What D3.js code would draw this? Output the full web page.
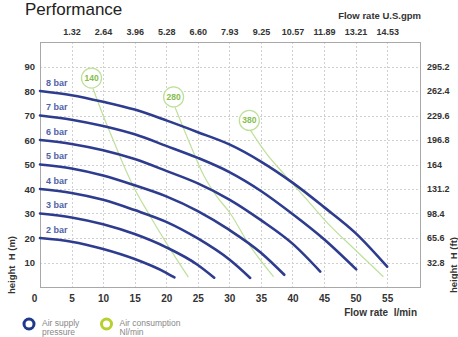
<!DOCTYPE html>
<html><head><meta charset="utf-8">
<script src="https://cdn.jsdelivr.net/npm/d3@7"></script>
<style>
body{margin:0;background:#fff}
svg{display:block}
text{font-family:"Liberation Sans",Arial,Helvetica,sans-serif;white-space:pre}
</style>
</head><body>
<svg id="chart" width="458" height="337"></svg>
<script>
// ---- data (flow rate l/min, head m) ----
const xTicksLmin = [0,5,10,15,20,25,30,35,40,45,50,55];
const topTicksGpm = ["1.32","2.64","3.96","5.28","6.60","7.93","9.25","10.57","11.89","13.21","14.53"];
const yTicksM = [10,20,30,40,50,60,70,80,90];
const rightTicksFt = ["32.8","65.6","98.4","131.2","164","196.8","229.6","262.4","295.2"];

const pressureNames = ["8 bar","7 bar","6 bar","5 bar","4 bar","3 bar","2 bar"];
const bar8 = [[0,80],[5,78.3],[10,75.6],[15,72.4],[20,68],[25,63.2],[30,58.2],[35,51.2],[40,42.6],[45,32.6],[50,22],[55,8.3]];
const bar7 = [[0,70],[5,68.3],[10,65.7],[15,62.3],[20,57.6],[25,52.7],[30,46.9],[35,39.2],[40,29.8],[45,19.5],[50.1,7.2]];
const bar6 = [[0,60],[5,58.4],[10,55.8],[15,52.2],[20,47.4],[25,42.3],[30,35.7],[35,27.3],[40,17.7],[44.4,6.3]];
const bar5 = [[0,50],[5,48.4],[10,45.5],[15,41.5],[20,37],[25,31],[30,23.3],[35,14],[38.7,5]];
const bar4 = [[0,40],[5,38.4],[10,35.6],[15,31.4],[20,26.6],[25,19.8],[30,11.2],[33.3,3.7]];
const bar3 = [[0,30],[5,28.4],[10,25.6],[15,21.6],[20,16.2],[25,9],[27.6,3.8]];
const bar2 = [[0,20],[5,18.5],[10,15.5],[15,11.4],[20,5.8],[21.3,3.9]];

const consumptionNames = ["140","280","380"];
const air140 = [[8.4,81],[10,70],[11.6,60],[13.2,50],[15,40],[17.2,30],[20,18],[23.5,4]];
const air280 = [[21.4,73.3],[23.5,60],[25.9,45.7],[28,37],[30.1,30.2],[33,17.8],[37,4.2]];
const air380 = [[33.4,63.7],[36,54],[38.8,45.7],[42,36.5],[45.4,26.5],[50,15],[54.4,4.2]];

// ---- layout ----
const svg = d3.select("#chart");
const L = 40, R = 420, T = 42, B = 287;
const x = d3.scaleLinear().domain([0, 60.2]).range([L, R]);
const y = d3.scaleLinear().domain([0, 100]).range([B, T]);

const blue = "#2d3c8e", labelBlue = "#5062a8", green = "#bfe09a", greenText = "#86bd4c";
const FONT = "Liberation Sans, Arial, sans-serif";

// title
svg.append("text").attr("x", 25).attr("y", 15).attr("font-size", 17).attr("fill", "#222").text("Performance");
svg.append("text").attr("x", 421).attr("y", 18.5).attr("text-anchor", "end").attr("font-size", 9.5)
  .attr("font-weight", "bold").attr("fill", "#333").text("Flow rate U.S.gpm");

// grid
const grid = svg.append("g").attr("stroke", "#d0d0d0").attr("stroke-width", 1).attr("stroke-dasharray", "2,2");
grid.selectAll("line.v").data(xTicksLmin.slice(1)).join("line").attr("class", "v")
  .attr("x1", d => Math.round(x(d)) + 0.5).attr("x2", d => Math.round(x(d)) + 0.5).attr("y1", T).attr("y2", B);
grid.selectAll("line.h").data(yTicksM).join("line").attr("class", "h")
  .attr("x1", L).attr("x2", R).attr("y1", d => Math.round(y(d)) + 0.5).attr("y2", d => Math.round(y(d)) + 0.5);

// frame
svg.append("rect").attr("x", L + 0.5).attr("y", T + 0.5).attr("width", R - L).attr("height", B - T)
  .attr("fill", "none").attr("stroke", "#a8a8a8").attr("stroke-width", 1);

// axes (labels only)
const axBottom = svg.append("g").attr("transform", `translate(0,${B + 5})`)
  .call(d3.axisBottom(x).tickValues(xTicksLmin).tickSize(0).tickPadding(3).tickFormat(d3.format("d")));
axBottom.select(".domain").remove();
axBottom.selectAll("text").attr("font-size", 10).attr("font-weight", "bold").attr("fill", "#333")
  .attr("font-family", FONT).attr("dx", d => d === 0 ? -6 : 0);

const axLeft = svg.append("g").attr("transform", `translate(35,0)`)
  .call(d3.axisLeft(y).tickValues(yTicksM).tickSize(0).tickPadding(0));
axLeft.select(".domain").remove();
axLeft.selectAll("text").attr("font-size", 9.5).attr("font-weight", "bold").attr("fill", "#333")
  .attr("font-family", FONT);

const axRight = svg.append("g").attr("transform", `translate(427,0)`)
  .call(d3.axisRight(y).tickValues(yTicksM).tickSize(0).tickPadding(0).tickFormat((d, i) => rightTicksFt[i]));
axRight.select(".domain").remove();
axRight.selectAll("text").attr("font-size", 9).attr("font-weight", "bold").attr("fill", "#333")
  .attr("font-family", FONT);

const axTop = svg.append("g").attr("transform", `translate(0,${T - 5})`)
  .call(d3.axisTop(x).tickValues(xTicksLmin.slice(1)).tickSize(0).tickPadding(2).tickFormat((d, i) => topTicksGpm[i]));
axTop.select(".domain").remove();
axTop.selectAll("text").attr("font-size", 9).attr("font-weight", "bold").attr("fill", "#333")
  .attr("font-family", FONT);

svg.append("text").attr("x", 417).attr("y", 316).attr("text-anchor", "end").attr("font-size", 10)
  .attr("font-weight", "bold").attr("fill", "#333").text("Flow rate  l/min");
svg.append("text").attr("transform", "translate(14.5,265) rotate(-90)").attr("text-anchor", "middle")
  .attr("font-size", 9.5).attr("font-weight", "bold").attr("fill", "#333").text("height  H (m)");
svg.append("text").attr("transform", "translate(457,265) rotate(-90)").attr("text-anchor", "middle")
  .attr("font-size", 9.5).attr("font-weight", "bold").attr("fill", "#333").text("height  H (ft)");

// lines
const line = d3.line().x(d => x(d[0])).y(d => y(d[1])).curve(d3.curveMonotoneX);

const airSeries = [air140, air280, air380];
svg.append("g").selectAll("path").data(airSeries).join("path")
  .attr("d", line).attr("fill", "none").attr("stroke", green).attr("stroke-width", 1.2);

const barSeries = [bar8, bar7, bar6, bar5, bar4, bar3, bar2];
svg.append("g").selectAll("path").data(barSeries).join("path")
  .attr("d", line).attr("fill", "none").attr("stroke", blue).attr("stroke-width", 2.6)
  .attr("stroke-linecap", "round");

svg.append("g").selectAll("text").data(barSeries).join("text")
  .attr("x", 46).attr("y", d => y(d[0][1]) - 5.5)
  .attr("font-size", 9).attr("font-weight", "bold").attr("fill", labelBlue)
  .text((d, i) => pressureNames[i]);

// consumption badges
const badges = svg.append("g").selectAll("g").data(airSeries).join("g")
  .attr("transform", d => `translate(${x(d[0][0]) - 1.5},${y(d[0][1]) - 10.5})`);
badges.append("circle").attr("r", 10).attr("fill", "#fff").attr("stroke", green).attr("stroke-width", 1.3);
badges.append("text").attr("text-anchor", "middle").attr("dy", "0.35em").attr("font-size", 8.5)
  .attr("font-weight", "bold").attr("fill", greenText).text((d, i) => consumptionNames[i]);

// legend
const legendItems = [
  {color: "#1f3a8a", lines: ["Air supply", "pressure"], cx: 29},
  {color: "#b8cf2e", lines: ["Air consumption", "Nl/min"], cx: 106.5}
];
const lg = svg.append("g").selectAll("g").data(legendItems).join("g");
lg.append("circle").attr("cx", d => d.cx).attr("cy", 324).attr("r", 5).attr("fill", "none")
  .attr("stroke", d => d.color).attr("stroke-width", 3);
lg.each(function(d) {
  d3.select(this).selectAll("text").data(d.lines).join("text")
    .attr("x", d.cx + 13).attr("y", (t, i) => 325.5 + i * 9.5)
    .attr("font-size", 8.5).attr("fill", "#888").text(t => t);
});
</script>
</body></html>
